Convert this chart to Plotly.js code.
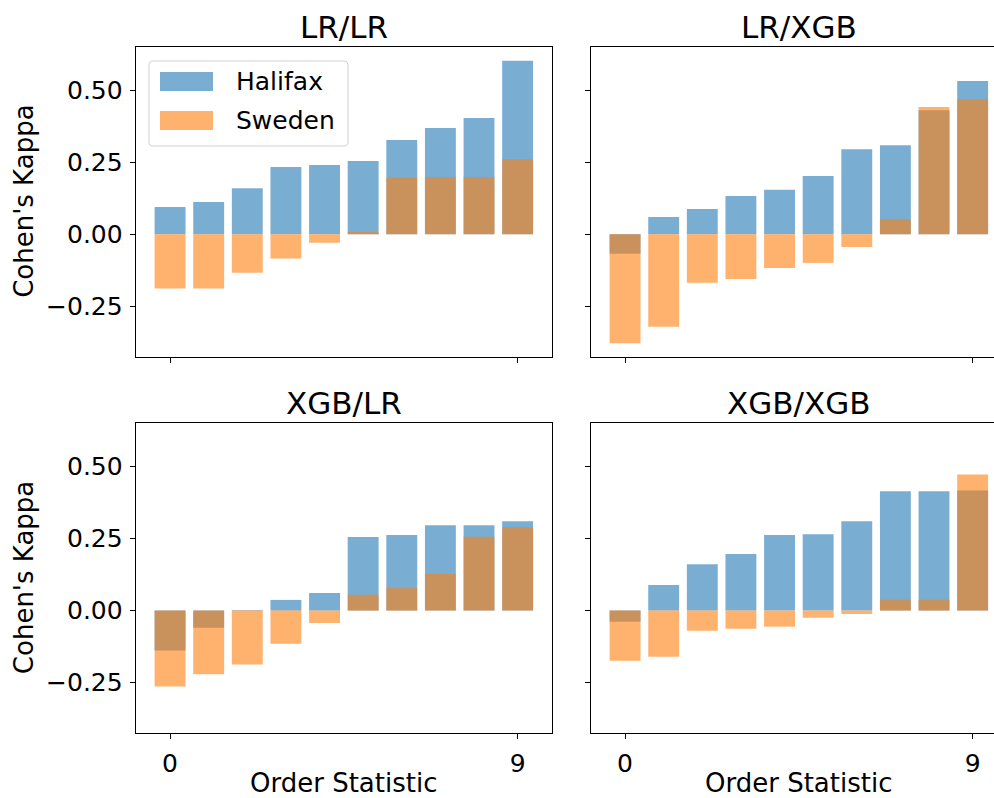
<!DOCTYPE html>
<html><head><meta charset="utf-8">
<script src="https://cdn.plot.ly/plotly-3.0.1.min.js"></script>
<style>html,body{margin:0;padding:0;overflow:hidden;background:#fff}#chart{width:1010px;height:798px}</style>
</head><body><div id="chart"></div>
<script>
// ---- data ----
const orderStat = [0,1,2,3,4,5,6,7,8,9];
const panelTitles = ["LR/LR","LR/XGB","XGB/LR","XGB/XGB"];
const seriesNames = ["Halifax","Sweden"];
const halifaxLRLR   = [0.095,0.112,0.160,0.233,0.240,0.254,0.327,0.368,0.403,0.601];
const swedenLRLR    = [-0.188,-0.188,-0.133,-0.084,-0.029,0.008,0.196,0.198,0.198,0.261];
const halifaxLRXGB  = [-0.067,0.060,0.088,0.133,0.154,0.202,0.295,0.309,0.430,0.531];
const swedenLRXGB   = [-0.377,-0.320,-0.168,-0.155,-0.117,-0.099,-0.044,0.053,0.441,0.468];
const halifaxXGBLR  = [-0.139,-0.060,0.002,0.037,0.061,0.255,0.262,0.296,0.296,0.310];
const swedenXGBLR   = [-0.264,-0.221,-0.187,-0.115,-0.043,0.055,0.078,0.127,0.256,0.289];
const halifaxXGBXGB = [-0.039,0.089,0.161,0.196,0.262,0.265,0.310,0.414,0.414,0.417];
const swedenXGBXGB  = [-0.174,-0.160,-0.070,-0.063,-0.056,-0.025,-0.012,0.037,0.037,0.472];
const xTickVals = [0,9];
const xTickText = ["0","9"];
const yTickVals = [-0.25,0,0.25,0.5];
const xLabel = "Order Statistic";
const yLabel = "Cohen's Kappa";

// ---- layout geometry (pixels of the figure) ----
const W = 1010, H = 798;
const colX = [[135.7,552],[590.7,1007]];
const rowY = [[46.7,357],[423.3,733]];
const px = v => v / W;
const py = v => 1 - v / H;
const FONT = "DejaVu Sans, Liberation Sans, sans-serif";
const blue = "rgba(31,119,180,0.6)";
const orange = "rgba(255,127,14,0.6)";

const halifax = [halifaxLRLR, halifaxLRXGB, halifaxXGBLR, halifaxXGBXGB];
const sweden  = [swedenLRLR, swedenLRXGB, swedenXGBLR, swedenXGBXGB];

const traces = [];
const layout = {
  width: W, height: H, margin:{l:0,r:0,t:0,b:0},
  paper_bgcolor:"#fff", plot_bgcolor:"#fff",
  barmode:"overlay", showlegend:false,
  font:{family:FONT, color:"#000"},
  annotations:[], shapes:[]
};

for (let i = 0; i < 4; i++) {
  const r = Math.floor(i/2), c = i % 2;
  const sfx = i === 0 ? "" : String(i+1);
  const xName = "x"+sfx, yName = "y"+sfx;
  traces.push({type:"bar", name:seriesNames[0], x:orderStat, y:halifax[i], width:0.8,
    marker:{color:blue, line:{width:0}}, xaxis:xName, yaxis:yName, hoverinfo:"skip"});
  traces.push({type:"bar", name:seriesNames[1], x:orderStat, y:sweden[i], width:0.8,
    marker:{color:orange, line:{width:0}}, xaxis:xName, yaxis:yName, hoverinfo:"skip"});
  const xd = [px(colX[c][0]), px(colX[c][1])];
  const yd = [py(rowY[r][1]), py(rowY[r][0])];
  layout["xaxis"+sfx] = {
    domain:xd, anchor:yName, range:[-0.89,9.89], tickvals:xTickVals, ticktext:xTickText,
    showticklabels: r === 1, ticks:"outside", ticklen:5, tickwidth:1, tickcolor:"#000",
    showline:true, linecolor:"#000", linewidth:1, mirror:true, showgrid:false, zeroline:false,
    tickfont:{family:FONT, size:25, color:"#000"}, ticklabelstandoff:3, fixedrange:true
  };
  layout["yaxis"+sfx] = {
    domain:yd, anchor:xName, range:[-0.425,0.650], tickvals:yTickVals, tickformat:".2f",
    showticklabels: c === 0, ticks:"outside", ticklen:5, tickwidth:1, tickcolor:"#000",
    showline:true, linecolor:"#000", linewidth:1, mirror:true, showgrid:false, zeroline:false,
    tickfont:{family:FONT, size:25, color:"#000"}, ticklabelstandoff:2, fixedrange:true
  };
  // subplot title
  layout.annotations.push({text:panelTitles[i], xref:"paper", yref:"paper",
    x:(xd[0]+xd[1])/2, y:yd[1], xanchor:"center", yanchor:"bottom", yshift:0,
    showarrow:false, font:{family:FONT, size:31, color:"#000"}});
  if (r === 1) {
    layout.annotations.push({text:xLabel, xref:"paper", yref:"paper",
      x:(xd[0]+xd[1])/2, y:py(783), xanchor:"center", yanchor:"middle",
      showarrow:false, font:{family:FONT, size:26, color:"#000"}});
  }
  if (c === 0) {
    layout.annotations.push({text:yLabel, xref:"paper", yref:"paper",
      x:px(24), y:(yd[0]+yd[1])/2, xanchor:"center", yanchor:"middle", textangle:-90,
      showarrow:false, font:{family:FONT, size:26, color:"#000"}});
  }
}

// ---- legend (drawn in the first panel) ----
const lx0 = 149, lx1 = 348, ly0 = 61, ly1 = 146, rad = 4;
function P(x,y){ return px(x).toFixed(5)+","+py(y).toFixed(5); }
const boxPath = "M"+P(lx0+rad,ly0)+" L"+P(lx1-rad,ly0)+" Q"+P(lx1,ly0)+" "+P(lx1,ly0+rad)+
  " L"+P(lx1,ly1-rad)+" Q"+P(lx1,ly1)+" "+P(lx1-rad,ly1)+" L"+P(lx0+rad,ly1)+
  " Q"+P(lx0,ly1)+" "+P(lx0,ly1-rad)+" L"+P(lx0,ly0+rad)+" Q"+P(lx0,ly0)+" "+P(lx0+rad,ly0)+" Z";
layout.shapes.push({type:"path", xref:"paper", yref:"paper", path:boxPath,
  fillcolor:"rgba(255,255,255,0.8)", line:{color:"#d0d0d0", width:1}, layer:"above"});
const legendColors = [blue, orange];
const swatchY = [[72,91],[111,130]];
for (let k = 0; k < 2; k++) {
  layout.shapes.push({type:"rect", xref:"paper", yref:"paper",
    x0:px(160), x1:px(213), y0:py(swatchY[k][1]), y1:py(swatchY[k][0]),
    fillcolor:legendColors[k], line:{width:0}, layer:"above"});
  layout.annotations.push({text:seriesNames[k], xref:"paper", yref:"paper",
    x:px(234), y:py((swatchY[k][0]+swatchY[k][1])/2), xanchor:"left", yanchor:"middle",
    showarrow:false, font:{family:FONT, size:25, color:"#000"}});
}

Plotly.newPlot("chart", traces, layout, {staticPlot:true, displayModeBar:false});
</script></body></html>
